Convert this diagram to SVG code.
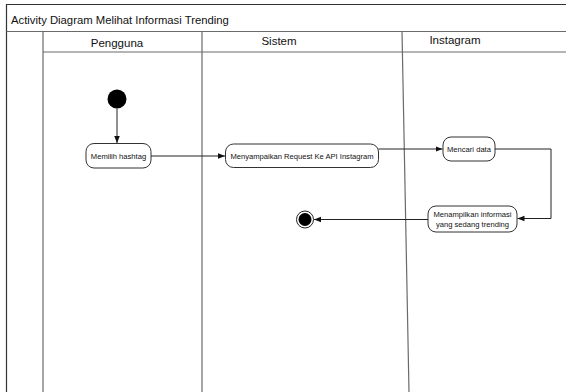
<svg xmlns="http://www.w3.org/2000/svg" width="566" height="392" viewBox="0 0 566 392">
<style>
.frame{stroke:#333;stroke-width:1.2;fill:none}
.lane{stroke:#6a6a6a;stroke-width:1.2;fill:none}
.t{font-family:"Liberation Sans",Arial,sans-serif;fill:#111}
.title{font-size:11.3px}
.hdr{font-size:11.5px;text-anchor:middle}
.act{fill:#fff;stroke:#333;stroke-width:1}
.lbl{font-size:7.6px;text-anchor:middle}
.edge{stroke:#222;stroke-width:1;fill:none;marker-end:url(#ah)}
</style>
<defs>
<marker id="ah" viewBox="0 0 10 10" refX="10" refY="5" markerWidth="7" markerHeight="7" markerUnits="userSpaceOnUse" orient="auto">
<path d="M0,1 L10,5 L0,9 Z" fill="#111"/>
</marker>
</defs>
<rect width="566" height="392" fill="#fff"/>
<g id="frame">
<path class="frame" d="M6.5,392 V4.5 H566"/>
<text class="t title" x="11" y="24">Activity Diagram Melihat Informasi Trending</text>
<path class="lane" d="M6.5,31.5 H566"/>
<path class="lane" d="M43,52 H566"/>
<path class="lane" d="M43,31.5 V392"/>
<path class="lane" d="M202,31.5 V392"/>
<path class="lane" d="M402,31.5 L409,392"/>
</g>
<g id="lane-pengguna"><text class="t hdr" x="117" y="47">Pengguna</text></g>
<g id="lane-sistem"><text class="t hdr" x="279" y="45">Sistem</text></g>
<g id="lane-instagram"><text class="t hdr" x="455" y="44">Instagram</text></g>
<g id="start"><circle cx="117" cy="99" r="9.5" fill="#000"/></g>
<g id="memilih">
<rect class="act" x="86" y="143.5" width="65" height="24.5" rx="8"/>
<text class="t lbl" x="118.5" y="158.5">Memilih hashtag</text>
</g>
<g id="menyampaikan">
<rect class="act" x="225.5" y="144" width="153" height="23.5" rx="8"/>
<text class="t lbl" x="302" y="158.5">Menyampaikan Request Ke API Instagram</text>
</g>
<g id="mencari">
<rect class="act" x="443" y="137" width="52" height="24" rx="8"/>
<text class="t lbl" x="469" y="151.5">Mencari data</text>
</g>
<g id="menampilkan">
<rect class="act" x="428" y="206" width="89" height="26" rx="8"/>
<text class="t lbl" x="472.5" y="216.5">Menampilkan informasi</text>
<text class="t lbl" x="472.5" y="226.5">yang sedang trending</text>
</g>
<g id="end">
<circle cx="305" cy="219.5" r="8.5" fill="#fff" stroke="#222" stroke-width="1"/>
<circle cx="305" cy="219.5" r="6.5" fill="#000"/>
</g>
<g id="connectors">
<path class="edge" d="M117,108.5 V143"/>
<path class="edge" d="M151,156 H225"/>
<path class="edge" d="M378.5,149 H442.5"/>
<path class="edge" d="M495,149 H551 V218.5 H517.5"/>
<path class="edge" d="M428,219.5 H314"/>
</g>
</svg>
